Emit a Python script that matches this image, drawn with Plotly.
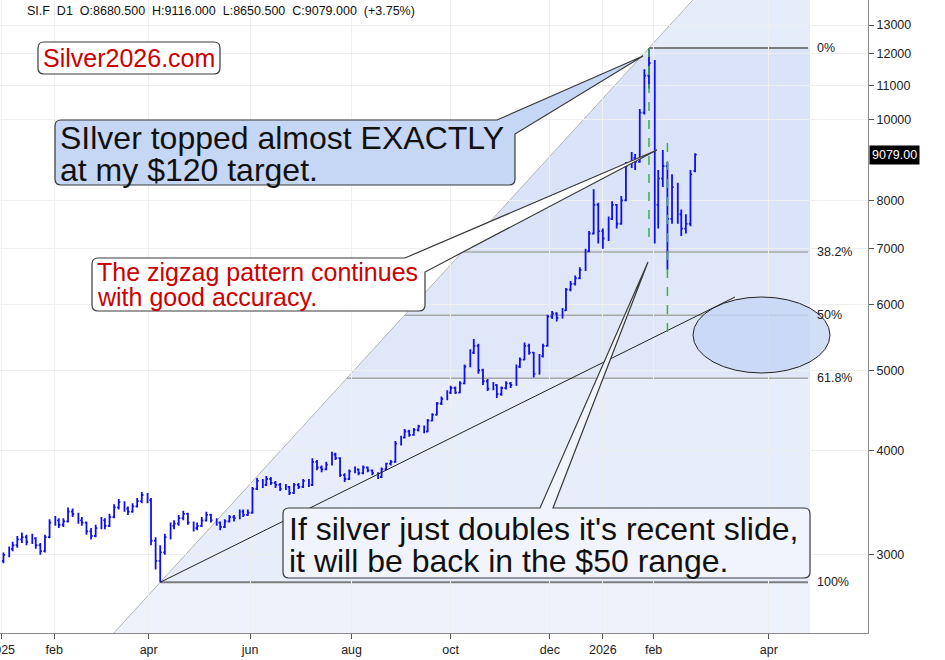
import numpy as np
import pandas as pd
import plotly.graph_objects as go

# ---------------- data (SI.F daily, sampled every 2 sessions) ----------------
bar_open = [2950, 3000, 3050, 3080, 3130, 3150, 3110, 3140, 3080, 3030,
            3150, 3280, 3300, 3260, 3290, 3380, 3360, 3300, 3280, 3200,
            3160, 3230, 3300, 3250, 3330, 3420, 3470, 3410, 3380, 3430,
            3480, 3540, 3490, 3120, 2950, 3020, 3150, 3250, 3270, 3320,
            3360, 3280, 3230, 3250, 3300, 3350, 3300, 3280, 3240, 3290,
            3330, 3320, 3380, 3350, 3370, 3600, 3680, 3640, 3700, 3660,
            3640, 3600, 3620, 3560, 3640, 3620, 3680, 3640, 3880, 3820,
            3800, 3850, 3960, 3920, 3740, 3700, 3780, 3800, 3760, 3820,
            3790, 3760, 3720, 3800, 3860, 3880, 4080, 4150, 4220, 4180,
            4240, 4280, 4220, 4350, 4420, 4560, 4620, 4700, 4760, 4700,
            4820, 5050, 5250, 5350, 5000, 4850, 4750, 4800, 4680, 4760,
            4820, 4800, 5050, 5150, 5350, 5250, 4950, 5200, 5350, 5800,
            5850, 5780, 5900, 6250, 6350, 6450, 6600, 6950, 7300, 7900,
            7350, 7200, 7600, 7900, 7500, 8000, 8800, 9000, 8900, 10200,
            11300, 11700, 7900, 8500, 8800, 7600, 8300, 7700, 7400, 7500, 8680.5]
bar_high = [3020, 3070, 3110, 3160, 3190, 3170, 3180, 3150, 3100, 3170,
            3310, 3340, 3320, 3320, 3420, 3410, 3370, 3330, 3290, 3230,
            3260, 3330, 3320, 3360, 3450, 3500, 3480, 3430, 3460, 3510,
            3570, 3560, 3510, 3150, 3080, 3180, 3280, 3300, 3350, 3390,
            3370, 3290, 3280, 3330, 3380, 3360, 3320, 3290, 3310, 3350,
            3350, 3400, 3400, 3400, 3620, 3710, 3700, 3730, 3720, 3680,
            3660, 3650, 3630, 3660, 3660, 3700, 3700, 3920, 3900, 3840,
            3880, 3990, 3980, 3930, 3760, 3800, 3830, 3810, 3840, 3830,
            3800, 3770, 3820, 3870, 3900, 4110, 4170, 4250, 4240, 4260,
            4300, 4290, 4370, 4440, 4580, 4650, 4730, 4790, 4780, 4850,
            5080, 5300, 5450, 5380, 5020, 4880, 4840, 4810, 4780, 4850,
            4840, 5080, 5180, 5400, 5380, 5260, 5230, 5380, 5830, 5890,
            5870, 5940, 6280, 6400, 6500, 6650, 7000, 7350, 8250, 7950,
            7400, 7650, 7980, 7920, 8100, 8900, 9150, 9100, 10300, 11500,
            12200, 11800, 8700, 9200, 8900, 8600, 8400, 7800, 7700, 8700, 9116]
bar_low = [2930, 2980, 3030, 3060, 3100, 3080, 3090, 3050, 3000, 3020,
           3140, 3250, 3230, 3240, 3280, 3330, 3270, 3250, 3170, 3130,
           3150, 3220, 3220, 3240, 3320, 3400, 3380, 3350, 3370, 3420,
           3460, 3460, 3080, 2880, 2780, 3000, 3130, 3220, 3250, 3300,
           3260, 3200, 3210, 3240, 3290, 3280, 3250, 3210, 3230, 3280,
           3290, 3310, 3330, 3340, 3360, 3590, 3610, 3630, 3640, 3610,
           3580, 3590, 3540, 3550, 3600, 3610, 3620, 3630, 3790, 3770,
           3790, 3840, 3900, 3720, 3670, 3690, 3760, 3740, 3750, 3770,
           3740, 3700, 3710, 3790, 3840, 3870, 4060, 4140, 4160, 4170,
           4220, 4200, 4210, 4340, 4410, 4540, 4600, 4680, 4680, 4690,
           4810, 5040, 5230, 4950, 4800, 4720, 4730, 4630, 4660, 4740,
           4760, 4790, 5030, 5140, 5220, 4900, 4940, 5180, 5340, 5760,
           5720, 5770, 5890, 6220, 6320, 6430, 6580, 6930, 7280, 7100,
           7000, 7150, 7580, 7400, 7480, 7980, 8750, 8700, 8880, 10150,
           10900, 7100, 7400, 8300, 6600, 7500, 7500, 7250, 7300, 7450, 8650.5]
bar_close = [3000, 3050, 3080, 3130, 3150, 3110, 3140, 3080, 3030, 3150,
             3280, 3300, 3260, 3290, 3380, 3360, 3300, 3280, 3200, 3160,
             3230, 3300, 3250, 3330, 3420, 3470, 3410, 3380, 3430, 3480,
             3540, 3490, 3120, 2950, 3020, 3150, 3250, 3270, 3320, 3360,
             3280, 3230, 3250, 3300, 3350, 3300, 3280, 3240, 3290, 3330,
             3320, 3380, 3350, 3370, 3600, 3680, 3640, 3700, 3660, 3640,
             3600, 3620, 3560, 3640, 3620, 3680, 3640, 3880, 3820, 3800,
             3850, 3960, 3920, 3740, 3700, 3780, 3800, 3760, 3820, 3790,
             3760, 3720, 3800, 3860, 3880, 4080, 4150, 4220, 4180, 4240,
             4280, 4220, 4350, 4420, 4560, 4620, 4700, 4760, 4700, 4820,
             5050, 5250, 5350, 5000, 4850, 4750, 4800, 4680, 4760, 4820,
             4800, 5050, 5150, 5350, 5250, 4950, 5200, 5350, 5800, 5850,
             5780, 5900, 6250, 6350, 6450, 6600, 6950, 7300, 7900, 7350,
             7200, 7600, 7900, 7500, 8000, 8800, 9000, 8900, 10200, 11300,
             11700, 7900, 8500, 8800, 7600, 8300, 7700, 7400, 7500, 8600, 9079]
bar_dates = pd.date_range("2025-01-02", periods=len(bar_close), freq="2B")

y_tick_values = [3000, 4000, 5000, 6000, 7000, 8000, 10000, 11000, 12000, 13000]
x_tick_dates = ["2025-01-01", "2025-02-01", "2025-04-01", "2025-06-01", "2025-08-01",
                "2025-10-01", "2025-12-01", "2026-01-01", "2026-02-01", "2026-04-01"]
x_tick_labels = ["2025", "feb", "apr", "jun", "aug", "oct", "dec", "2026", "feb", "apr"]
fib_levels = [0.0, 0.382, 0.5, 0.618, 1.0]
fib_labels = ["0%", "38.2%", "50%", "61.8%", "100%"]
symbol, timeframe, day_change_pct = "SI.F", "D1", 3.75

# ---------------- geometry ----------------
W, H = 945, 660
ML, MR, MT, MB = 0, 77, 0, 27
PW, PH = W - ML - MR, H - MT - MB
YLO, YHI = np.log10(2416), np.log10(13932)
XR0, XR1 = pd.Timestamp("2024-12-31 12:00"), pd.Timestamp("2026-05-14")
FONT = "Liberation Sans, Arial, Helvetica, sans-serif"

break_days = [d for d in pd.date_range("2024-12-28", "2026-03-01") if d.weekday() >= 5]
break_set = set(break_days)
DAY = pd.Timedelta(days=1)


def units(t):
    t = pd.Timestamp(t)
    span = (t - XR0) / DAY
    b = 0.0
    for d in break_days:
        s, e = max(d, XR0), min(d + DAY, t)
        if e > s:
            b += (e - s) / DAY
    return span - b


TOT = units(XR1)


def xpx(t):
    return units(t) / TOT * PW


def ypx(v):
    return PH * (YHI - np.log10(v)) / (YHI - YLO)


def fx(p):
    return p / PW


def fy(p):
    return 1 - p / PH


def P(x, y):
    return f"{fx(x):.5f},{fy(y):.5f}"


def poly(pts):
    return "M " + " L ".join(P(x, y) for x, y in pts) + " Z"


def rrect(x0, y0, x1, y1, r=6):
    return (f"M {P(x0 + r, y0)} L {P(x1 - r, y0)} Q {P(x1, y0)} {P(x1, y0 + r)} "
            f"L {P(x1, y1 - r)} Q {P(x1, y1)} {P(x1 - r, y1)} L {P(x0 + r, y1)} "
            f"Q {P(x0, y1)} {P(x0, y1 - r)} L {P(x0, y0 + r)} Q {P(x0, y0)} {P(x0 + r, y0)} Z")


def callout_corner(x0, y0, x1, y1, a, tip, b, r=6):
    return (f"M {P(x0 + r, y0)} L {P(*a)} L {P(*tip)} L {P(*b)} "
            f"L {P(x1, y1 - r)} Q {P(x1, y1)} {P(x1 - r, y1)} L {P(x0 + r, y1)} "
            f"Q {P(x0, y1)} {P(x0, y1 - r)} L {P(x0, y0 + r)} Q {P(x0, y0)} {P(x0 + r, y0)} Z")


def callout_top(x0, y0, x1, y1, a, tip, b, r=6):
    return (f"M {P(x0 + r, y0)} L {P(*a)} L {P(*tip)} L {P(*b)} L {P(x1 - r, y0)} "
            f"Q {P(x1, y0)} {P(x1, y0 + r)} L {P(x1, y1 - r)} Q {P(x1, y1)} {P(x1 - r, y1)} "
            f"L {P(x0 + r, y1)} Q {P(x0, y1)} {P(x0, y1 - r)} L {P(x0, y0 + r)} "
            f"Q {P(x0, y0)} {P(x0 + r, y0)} Z")


# ---------------- figure ----------------
fig = go.Figure()
fig.add_trace(go.Ohlc(
    x=bar_dates, open=bar_open, high=bar_high, low=bar_low, close=bar_close,
    increasing_line_color="#1010ee", decreasing_line_color="#1010ee",
    line_width=1.8, tickwidth=0.35, hoverinfo="skip", showlegend=False))

shapes = []
annotations = []

i_lo = int(np.argmin(bar_low))
i_hi = int(np.argmax(bar_high))
L, Hh = bar_low[i_lo], bar_high[i_hi]
xL, yL = xpx(bar_dates[i_lo]), ypx(L)
xH, yH = xpx(bar_dates[i_hi]), ypx(Hh)


def xd(y):
    return xL + (y - yL) * (xH - xL) / (yH - yL)


XRIGHT = 810
fib_vals = [10 ** (np.log10(Hh) - lv * (np.log10(Hh) - np.log10(L))) for lv in fib_levels]
fib_y = [ypx(v) for v in fib_vals]

bands = [(0, fib_y[0], "#e6ecfa"), (fib_y[0], fib_y[1], "#dae3f7"),
         (fib_y[1], fib_y[3], "#e0e7f8"), (fib_y[3], fib_y[4], "#e7edfa"),
         (fib_y[4], PH, "#eef2fb")]
for ya, yb, col in bands:
    shapes.append(dict(type="path", xref="paper", yref="paper", layer="below",
                       path=poly([(xd(ya), ya), (XRIGHT, ya), (XRIGHT, yb), (xd(yb), yb)]),
                       fillcolor=col, line=dict(width=0)))

shapes.append(dict(type="line", xref="paper", yref="paper", layer="below",
                   x0=fx(xd(PH)), y0=fy(PH), x1=fx(xd(0)), y1=fy(0),
                   line=dict(color="#b4b4b4", width=1)))

for lv, yy, lab in zip(fib_levels, fib_y, fib_labels):
    strong = lv in (0.0, 1.0)
    shapes.append(dict(type="line", xref="paper", yref="paper", layer="below",
                       x0=fx(xd(yy)), y0=fy(yy), x1=fx(808), y1=fy(yy),
                       line=dict(color="#7c7c7c" if strong else "#a8a8a8",
                                 width=2 if strong else 1.5)))
    annotations.append(dict(xref="paper", yref="paper", x=fx(815), y=fy(yy), text=lab,
                            showarrow=False, xanchor="left", yanchor="middle",
                            font=dict(family=FONT, size=12.5, color="#222")))

shapes.append(dict(type="line", xref="paper", yref="paper", x0=fx(xL), y0=fy(yL),
                   x1=fx(735), y1=fy(297), line=dict(color="#222", width=1)))

i_crash = i_hi + 4
shapes.append(dict(type="line", xref="x", yref="paper", x0=bar_dates[i_hi], x1=bar_dates[i_hi],
                   y0=fy(yH), y1=fy(240), line=dict(color="#3cb043", width=1.5, dash="dash")))
shapes.append(dict(type="line", xref="x", yref="paper", x0=bar_dates[i_crash], x1=bar_dates[i_crash],
                   y0=fy(143), y1=fy(337), line=dict(color="#3cb043", width=1.5, dash="dash")))

shapes.append(dict(type="circle", xref="paper", yref="paper", x0=fx(693), x1=fx(830),
                   y0=fy(373), y1=fy(297), fillcolor="rgba(196,214,244,0.8)",
                   line=dict(color="#222", width=1)))

BORDER = dict(color="#3a3a3a", width=1.2)
shapes.append(dict(type="path", xref="paper", yref="paper",
                   path=callout_corner(55, 120, 515, 185, (497, 120), (643, 56), (515, 134)),
                   fillcolor="#c6d7f5", line=BORDER))
shapes.append(dict(type="path", xref="paper", yref="paper",
                   path=callout_corner(92, 258, 425, 311, (405, 258), (657, 150), (425, 272)),
                   fillcolor="#ffffff", line=BORDER))
shapes.append(dict(type="path", xref="paper", yref="paper",
                   path=callout_top(283, 508, 810, 578, (540, 508), (648, 262), (553, 508)),
                   fillcolor="#f1f4fd", line=BORDER))
shapes.append(dict(type="path", xref="paper", yref="paper",
                   path=rrect(38, 42, 220, 74), fillcolor="#ffffff", line=BORDER))


def text(x, y, s, size, color="#111"):
    annotations.append(dict(xref="paper", yref="paper", x=fx(x), y=fy(y), text=s,
                            showarrow=False, xanchor="left", yanchor="middle",
                            font=dict(family=FONT, size=size, color=color)))


text(58, 138, "SIlver topped almost EXACTLY", 32)
text(58, 170, "at my $120 target.", 32)
text(95, 272, "The zigzag pattern continues", 25, "#cc0000")
text(95, 297, "with good accuracy.", 25, "#cc0000")
text(287, 529, "If silver just doubles it's recent slide,", 32)
text(287, 561, "it will be back in the $50 range.", 32)
text(41, 58, "Silver2026.com", 25, "#cc0000")

last_o, last_h, last_l, last_c = bar_open[-1], bar_high[-1], bar_low[-1], bar_close[-1]
sp = "\u00a0\u00a0"
header = (f"{symbol}{sp}{timeframe}{sp}O:{last_o:.3f}{sp}H:{last_h:.3f}{sp}"
          f"L:{last_l:.3f}{sp}C:{last_c:.3f}{sp}(+{day_change_pct:.2f}%)")
text(25, 11, header, 12.5, "#111")

annotations.append(dict(xref="paper", yref="paper", x=1.0, y=fy(ypx(last_c)),
                        text=f"{last_c:.2f}", showarrow=False, xanchor="left", yanchor="middle",
                        xshift=1, bgcolor="#000000", borderpad=2,
                        font=dict(family=FONT, size=12.5, color="#ffffff")))

tick_pos = []
for d in x_tick_dates:
    t = pd.Timestamp(d)
    while t in break_set:
        t += DAY
    tick_pos.append(t.strftime("%Y-%m-%d"))

fig.update_layout(
    width=W, height=H, margin=dict(l=ML, r=MR, t=MT, b=MB, autoexpand=False),
    paper_bgcolor="white", plot_bgcolor="white",
    shapes=shapes, annotations=annotations, showlegend=False,
    xaxis=dict(type="date", range=[XR0, XR1], automargin=False,
               rangebreaks=[dict(values=[d.strftime("%Y-%m-%d") for d in break_days])],
               tickmode="array", tickvals=tick_pos, ticktext=x_tick_labels,
               ticklabeloverflow="allow",
               ticks="outside", ticklen=5, tickcolor="#555", showline=True,
               linecolor="#8a8a8a", linewidth=1, showgrid=True, gridcolor="#efefef",
               zeroline=False, rangeslider=dict(visible=False),
               tickfont=dict(family=FONT, size=12.5, color="#222")),
    yaxis=dict(type="log", range=[YLO, YHI], side="right", automargin=False,
               tickmode="array", tickvals=y_tick_values,
               ticktext=[str(v) for v in y_tick_values],
               ticks="outside", ticklen=5, tickcolor="#555", showline=True,
               linecolor="#8a8a8a", linewidth=1, showgrid=True, gridcolor="#efefef",
               zeroline=False, tickfont=dict(family=FONT, size=12.5, color="#222")),
)

fig.write_html("out.html", config={"displayModeBar": False})
